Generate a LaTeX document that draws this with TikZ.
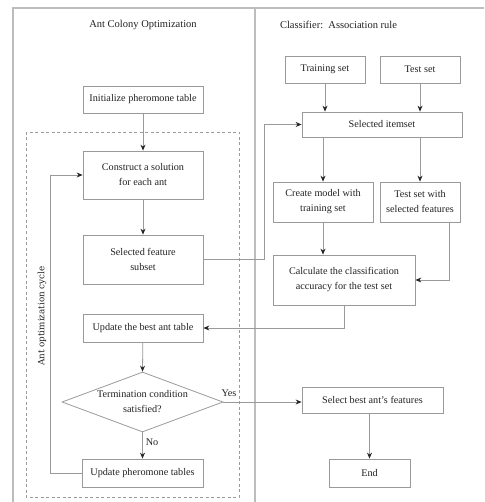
\documentclass[tikz,border=0pt]{standalone}
\usepackage{fontspec}
\setmainfont{Liberation Serif}
\newfontfamily\widefont{DejaVu Serif}
\usetikzlibrary{arrows.meta,shapes.geometric}
\definecolor{linegray}{HTML}{9A9A9A}
\definecolor{framegray}{HTML}{BDBDBD}
\definecolor{txt}{HTML}{222222}
\tikzset{
  box/.style={draw=linegray, line width=0.8pt, rectangle, inner sep=0pt, align=center,
    text=txt, font=\fontsize{10.2}{15}\selectfont},
  arr/.style={draw=linegray, line width=0.8pt,
    -{Stealth[length=6pt,width=5pt,inset=2pt,color=black!85]}},
  conn/.style={draw=linegray, line width=0.8pt},
  lbl/.style={text=txt, font=\fontsize{10.2}{12}\selectfont, inner sep=0pt}
}
\begin{document}
\begin{tikzpicture}[x=1pt,y=-1pt]
\useasboundingbox (0,0) rectangle (484,502);
% frame
\draw[framegray, line width=1.1pt] (13,502) -- (13,8) -- (484,8);
\draw[framegray, line width=1.1pt] (255,8) -- (255,502);
\draw[linegray, line width=0.7pt, dash pattern=on 3pt off 2.5pt] (26,132) rectangle (239,497);
% titles
\node[lbl, font=\fontsize{10.5}{12}\selectfont] (t1) at (143,25) {Ant Colony Optimization};
\node[lbl, font=\fontsize{10.5}{12}\selectfont] (t2) at (338.5,25) {Classifier:\ \ Association rule};
\node[lbl, font=\widefont\fontsize{8.8}{10}\selectfont, rotate=90] (cyc) at (42,316) {Ant optimization cycle};
% left nodes
\node[box, minimum width=120pt, minimum height=27pt] (init) at (143,99.5) {Initialize pheromone table};
\node[box, minimum width=120pt, minimum height=48pt] (cons) at (143,175) {Construct a solution\\for each ant};
\node[box, minimum width=120pt, minimum height=49pt] (feat) at (143,259.5) {Selected feature\\subset};
\node[box, minimum width=120pt, minimum height=28pt] (best) at (143,328) {Update the best ant table};
\node[diamond, draw=linegray, line width=0.8pt, minimum width=161pt, minimum height=60pt, inner sep=0pt, aspect=2.68] (cond) at (142.5,402) {};
\node[lbl, align=center, font=\fontsize{10.2}{15}\selectfont] (condt) at (cond) {Termination condition\\satisfied?};
\node[box, minimum width=121pt, minimum height=28pt] (pher) at (142.5,473) {Update pheromone tables};
% right nodes
\node[box, minimum width=80pt, minimum height=27pt] (train) at (325,69.5) {Training set};
\node[box, minimum width=80pt, minimum height=27pt] (test) at (420,69.5) {Test set};
\node[box, minimum width=160pt, minimum height=25pt] (item) at (382,124.5) {Selected itemset};
\node[box, minimum width=100pt, minimum height=40pt] (create) at (323,202) {Create model with\\training set};
\node[box, minimum width=80pt, minimum height=40pt] (tsel) at (420,202) {Test set with\\selected features};
\node[box, minimum width=142pt, minimum height=50pt] (calc) at (344,280) {Calculate the classification\\accuracy for the test set};
\node[box, minimum width=141pt, minimum height=26pt] (sel) at (372.5,400) {Select best ant's features};
\node[box, minimum width=81pt, minimum height=28pt] (end) at (369.5,473) {End};
\coordinate (fj) at (264,259.5);
\coordinate (lp) at (50,473);
\coordinate (tj) at (449,222);
% connectors
\draw[arr] (init) -- (cons);
\draw[arr] (cons) -- (feat);
\draw[arr] (feat.east) -- (fj) |- (item.west);
\draw[arr] (train.south) -- (train.south |- item.north);
\draw[arr] (test.south) -- (test.south |- item.north);
\draw[arr] (create.north |- item.south) -- (create.north);
\draw[arr] (tsel.north |- item.south) -- (tsel.north);
\draw[arr] (create.south) -- (create.south |- calc.north);
\draw[arr] (tj) |- (calc.east);
\draw[arr] (calc.south) |- (best.east);
\draw[arr] (best) -- (cond.north);
\draw[arr] (cond.east) -- (cond.east -| sel.west);
\draw[arr] (cond.south) -- (pher.north);
\draw[arr] (pher.west) -- (lp) |- (cons.west);
\draw[arr] (end.north |- sel.south) -- (end.north);
\node[lbl] (yes) at (229,393) {Yes};
\node[lbl] (no) at (152,442) {No};
\end{tikzpicture}
\end{document}
